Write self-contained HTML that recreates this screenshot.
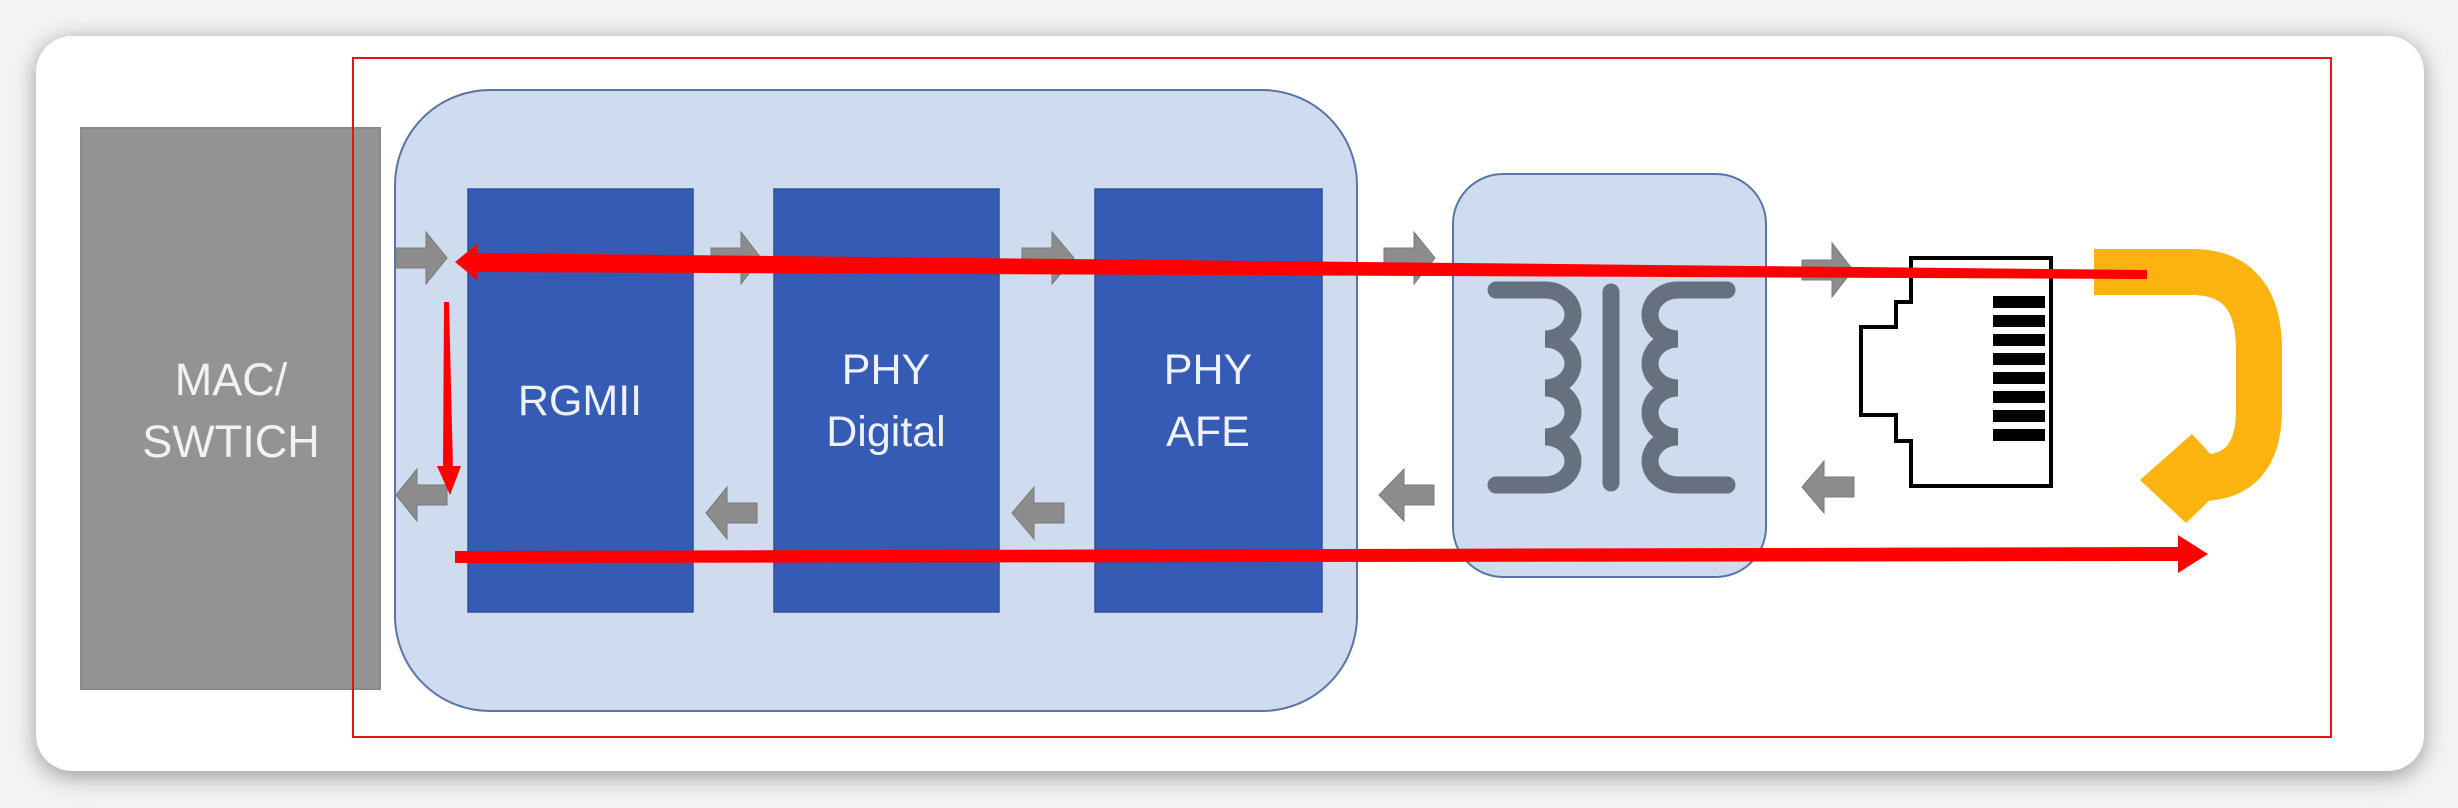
<!DOCTYPE html>
<html><head><meta charset="utf-8"><style>
html,body{margin:0;padding:0;width:2458px;height:808px;overflow:hidden;background:#ececec;}
svg{position:absolute;left:0;top:0;}
</style></head><body>
<svg width="2458" height="808" viewBox="0 0 2458 808" xmlns="http://www.w3.org/2000/svg">
<defs>
<filter id="sh" x="-5%" y="-10%" width="110%" height="120%"><feGaussianBlur stdDeviation="12"/></filter>
</defs>
<rect x="0" y="0" width="2458" height="808" fill="#f4f4f4"/>
<rect x="36" y="40" width="2388" height="737" rx="36" fill="#9a9a9a" filter="url(#sh)"/>
<rect x="36" y="36" width="2388" height="735" rx="36" fill="#ffffff"/>

<!-- MAC box -->
<rect x="81" y="128" width="299" height="561" fill="#939393" stroke="#8a8a8a" stroke-width="2"/>
<text x="231" y="395" font-family="Liberation Sans, sans-serif" font-size="45" fill="#f2f2f2" text-anchor="middle">MAC/</text>
<text x="231" y="457" font-family="Liberation Sans, sans-serif" font-size="45" fill="#f2f2f2" text-anchor="middle">SWTICH</text>

<!-- big PHY box -->
<rect x="395" y="90" width="962" height="621" rx="95" fill="#cfdbee" stroke="#5a74a8" stroke-width="2"/>
<rect x="468" y="189" width="225" height="423" fill="#365bb5" stroke="#2e4f9e" stroke-width="1.5"/>
<rect x="774" y="189" width="225" height="423" fill="#365bb5" stroke="#2e4f9e" stroke-width="1.5"/>
<rect x="1095" y="189" width="227" height="423" fill="#365bb5" stroke="#2e4f9e" stroke-width="1.5"/>
<g font-family="Liberation Sans, sans-serif" font-size="43" fill="#eef2fa" text-anchor="middle">
<text x="580" y="415">RGMII</text>
<text x="886" y="384">PHY</text>
<text x="886" y="446">Digital</text>
<text x="1208" y="384">PHY</text>
<text x="1208" y="446">AFE</text>
</g>

<!-- transformer -->
<rect x="1453" y="174" width="313" height="403" rx="50" fill="#cfdbee" stroke="#5a74a8" stroke-width="2"/>
<g fill="none" stroke="#66707f" stroke-width="17" stroke-linecap="round">
<path d="M1496 290 H1545 a28 24.5 0 0 1 0 49 a28 24.5 0 0 1 0 49 a28 24.5 0 0 1 0 49 a28 24 0 0 1 0 48 H1496"/>
<path d="M1727 290 H1678 a28 24.5 0 0 0 0 49 a28 24.5 0 0 0 0 49 a28 24.5 0 0 0 0 49 a28 24 0 0 0 0 48 H1727"/>
<line x1="1611" y1="292" x2="1611" y2="483"/>
</g>

<!-- RJ45 -->
<polygon points="1911,258 2051,258 2051,486 1911,486 1911,441 1896,441 1896,415 1861,415 1861,327 1896,327 1896,302 1911,302" fill="#fff" stroke="#000" stroke-width="4"/>
<g fill="#000">
<rect x="1993" y="296" width="52" height="12"/>
<rect x="1993" y="315" width="52" height="12"/>
<rect x="1993" y="334" width="52" height="12"/>
<rect x="1993" y="353" width="52" height="12"/>
<rect x="1993" y="372" width="52" height="12"/>
<rect x="1993" y="391" width="52" height="12"/>
<rect x="1993" y="410" width="52" height="12"/>
<rect x="1993" y="429" width="52" height="12"/>
</g>

<!-- yellow hook -->
<path d="M2094 272 H2192 Q2259 272 2259 350 V410 Q2259 478 2200 478" fill="none" stroke="#fbb40f" stroke-width="46"/>
<polygon points="2192,434 2140,480 2186,523 2214,496 2214,458" fill="#fbb40f"/>

<!-- gray arrows right -->
<g fill="#8c8c8c" stroke="#7a7a7a" stroke-width="1">
<polygon points="396,248 426,248 426,232 447,258 426,284 426,268 396,268"/>
<polygon points="711,248 741,248 741,232 761,258 741,284 741,268 711,268"/>
<polygon points="1022,248 1052,248 1052,232 1074,258 1052,284 1052,268 1022,268"/>
<polygon points="1384,248 1414,248 1414,232 1435,258 1414,284 1414,268 1384,268"/>
<polygon points="1802,260 1832,260 1832,243 1853,270 1832,297 1832,280 1802,280"/>
<!-- left -->
<polygon points="447,485 417,485 417,469 396,495 417,521 417,505 447,505"/>
<polygon points="757,503 727,503 727,487 706,513 727,539 727,523 757,523"/>
<polygon points="1064,503 1034,503 1034,487 1012,513 1034,539 1034,523 1064,523"/>
<polygon points="1434,485 1404,485 1404,469 1379,495 1404,521 1404,505 1434,505"/>
<polygon points="1854,477 1824,477 1824,461 1802,487 1824,513 1824,497 1854,497"/>
</g>

<!-- red outline -->
<rect x="353" y="58" width="1978" height="679" fill="none" stroke="#e5141c" stroke-width="2"/>

<!-- red arrows -->
<polygon points="2147,270 2147,279 475,272 475,253" fill="#ff0000"/>
<polygon points="455,262 477,244 477,280" fill="#ff0000"/>
<polygon points="444,302 449,302 453,470 443,470" fill="#ff0000"/>
<polygon points="437,466 461,466 450,495" fill="#ff0000"/>
<polygon points="455,551 2185,547 2185,561 455,563" fill="#ff0000"/>
<polygon points="2178,535 2208,554 2178,573" fill="#ff0000"/>
</svg>
</body></html>
